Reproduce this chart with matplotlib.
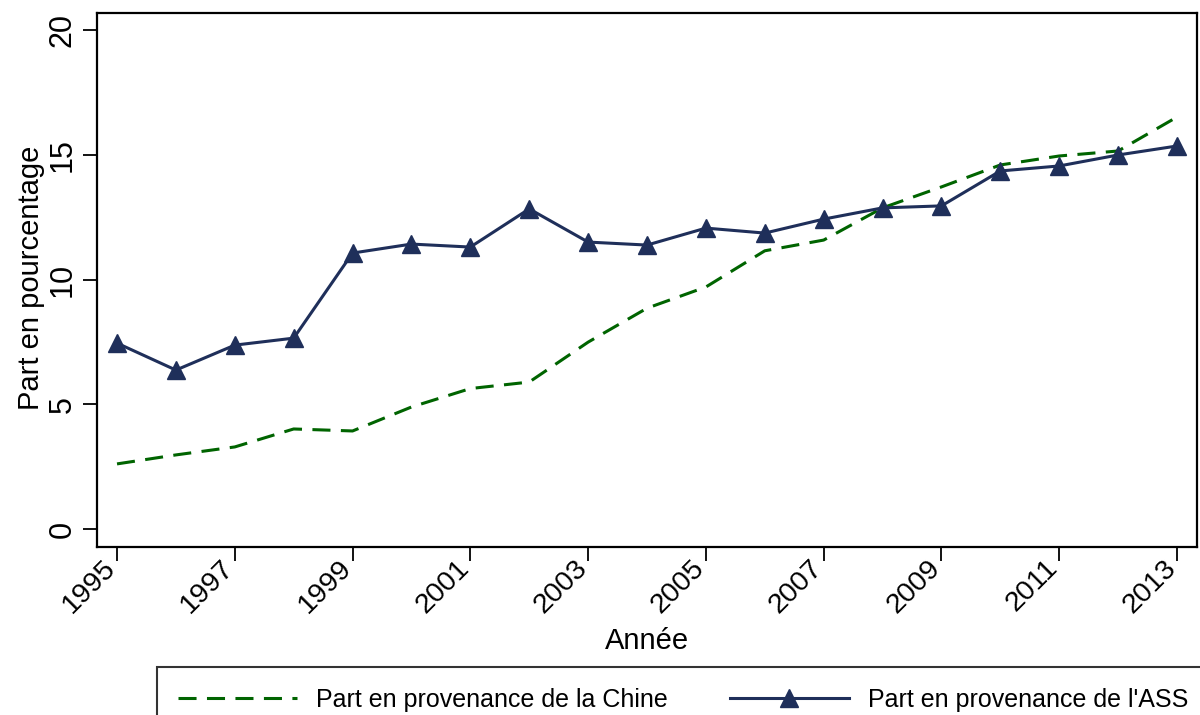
import matplotlib
matplotlib.use("Agg")
import matplotlib.pyplot as plt

plt.rcParams['font.family'] = ['Liberation Sans', 'DejaVu Sans']
plt.rcParams['lines.scale_dashes'] = False

years = list(range(1995, 2014))
chine = [2.61, 2.97, 3.29, 4.01, 3.93, 4.89, 5.63, 5.89, 7.49, 8.85, 9.70,
         11.15, 11.58, 12.87, 13.71, 14.59, 14.95, 15.15, 16.51]
ass = [7.45, 6.37, 7.37, 7.65, 11.06, 11.42, 11.30, 12.83, 11.50, 11.38, 12.06,
       11.86, 12.42, 12.87, 12.95, 14.35, 14.55, 14.99, 15.35]
xticks = list(range(1995, 2014, 2))
yticks = [0, 5, 10, 15, 20]
label_chine = "Part en provenance de la Chine"
label_ass = "Part en provenance de l'ASS"

green = "#006400"
navy = "#1f2f5a"

fig = plt.figure(figsize=(12, 7.15), dpi=100)
ax = fig.add_axes([97/1200, 1 - 547/715, (1197 - 97)/1200, (547 - 13)/715])

ax.plot(years, chine, color=green, lw=2.2, dashes=(13, 7.5), label=label_chine)
ax.plot(years, ass, color=navy, lw=2.2, marker='^', markersize=13.5, label=label_ass)

ax.set_xlim(1995 - 0.34, 2013 + 0.34)
ax.set_ylim(-0.72, 20.68)
ax.set_xticks(xticks)
ax.set_xticklabels([str(x) for x in xticks], rotation=45, ha='right', va='baseline',
                   rotation_mode='anchor', fontsize=20.5)
ax.set_yticks(yticks)
ax.set_yticklabels([str(y) for y in yticks], rotation=90, va='center', fontsize=22)
ax.tick_params(axis='both', length=10, width=1.3, direction='out', pad=4)
ax.tick_params(axis='x', pad=6)
for s in ax.spines.values():
    s.set_linewidth(1.6)

ax.set_xlabel("Année", fontsize=21)
ax.xaxis.set_label_coords(0.5, -0.150)
ax.set_ylabel("Part en pourcentage", fontsize=21)
ax.yaxis.set_label_coords(-0.047, 0.504)

leg = fig.legend(loc='upper left', bbox_to_anchor=(157/1200, 1 - 667/715),
                 ncol=2, fontsize=18, handlelength=4.76, handletextpad=0.76,
                 columnspacing=2.48, borderpad=0.84, borderaxespad=0,
                 frameon=True, fancybox=False, edgecolor='black')
leg.get_frame().set_linewidth(1.5)

fig.savefig("out.png", dpi=100)
